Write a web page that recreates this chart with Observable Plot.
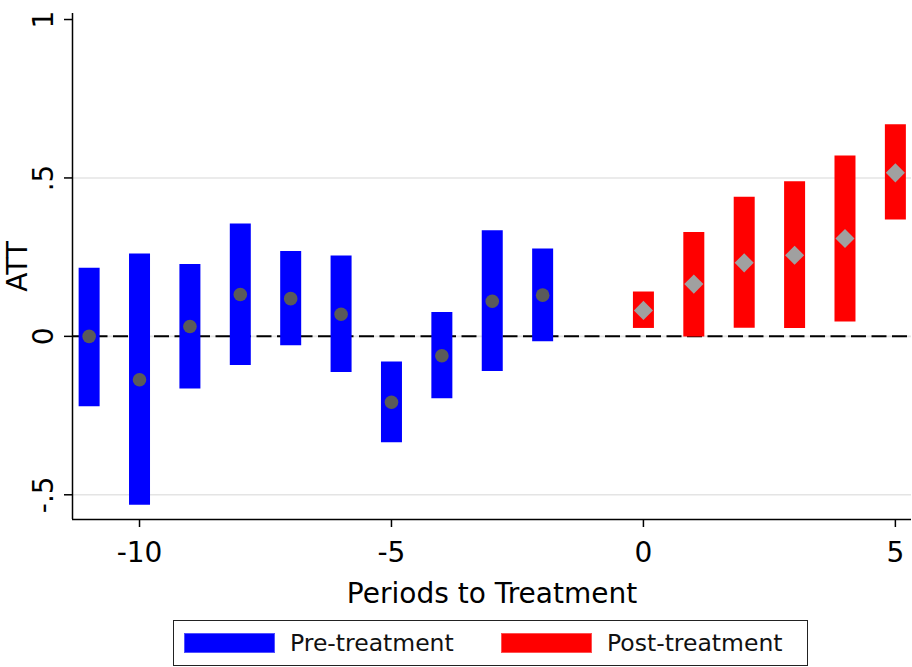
<!DOCTYPE html>
<html>
<head>
<meta charset="utf-8">
<script src="https://cdn.jsdelivr.net/npm/d3@7"></script>
<script src="https://cdn.jsdelivr.net/npm/@observablehq/plot@0.6"></script>
<style>
  html, body { margin: 0; padding: 0; background: #fff; }
  body { font-family: "DejaVu Sans", Verdana, sans-serif; width: 912px; }
  #chart svg { display: block; }
  .legend { position: relative; width: 912px; height: 52px; }
  .legend .box { position: absolute; left: 173px; top: 5px; width: 635px; height: 46px;
    border: 1.5px solid #222; box-sizing: border-box; }
  .legend .sw { position: absolute; width: 91px; height: 20px; box-sizing: border-box; }
  .legend .lab { position: absolute; font-size: 23.5px; line-height: 23.5px; color: #111; white-space: nowrap; }
</style>
</head>
<body>
<div id="chart"></div>
<div class="legend" id="legend"></div>
<script>
// ---- data ----
const periods = [-11, -10, -9, -8, -7, -6, -5, -4, -3, -2, 0, 1, 2, 3, 4, 5];
const att     = [0.000, -0.137, 0.031, 0.132, 0.119, 0.070, -0.208, -0.061, 0.111, 0.130, 0.082, 0.165, 0.232, 0.256, 0.309, 0.516];
const lower   = [-0.222, -0.533, -0.166, -0.092, -0.030, -0.114, -0.336, -0.197, -0.111, -0.017, 0.025, -0.002, 0.026, 0.025, 0.045, 0.367];
const upper   = [0.215, 0.260, 0.227, 0.355, 0.268, 0.254, -0.081, 0.075, 0.333, 0.276, 0.140, 0.328, 0.439, 0.488, 0.569, 0.668];
const xTicks = [-10, -5, 0, 5];
const yTicks = [-0.5, 0, 0.5, 1];
const gridTicks = [-0.5, 0, 0.5];
const seriesNames = ["Pre-treatment", "Post-treatment"];
const seriesColors = ["#0000ff", "#ff0000"];

const rows = periods.map((p, i) => ({period: p, att: att[i], lo: lower[i], hi: upper[i]}));
const pre = rows.filter(d => d.period < 0);
const post = rows.filter(d => d.period >= 0);

const xDomain = [-11.33, 5.32];
const yDomain = [-0.578, 1.019];

const yFmt = d => String(d).replace("0.", ".");

const chart = Plot.plot({
  width: 912,
  height: 615,
  marginLeft: 72,
  marginRight: 1,
  marginTop: 13,
  marginBottom: 96,
  style: {fontFamily: "DejaVu Sans, Verdana, sans-serif", background: "white", color: "black"},
  x: {domain: xDomain},
  y: {domain: yDomain},
  marks: [
    Plot.gridY(gridTicks, {stroke: "#e4e4e4", strokeOpacity: 1, strokeWidth: 1.6}),
    Plot.ruleY([0], {stroke: "black", strokeWidth: 2, strokeDasharray: "15,5.5"}),
    Plot.ruleX(pre, {x: "period", y1: "lo", y2: "hi", stroke: seriesColors[0], strokeWidth: 21}),
    Plot.ruleX(post, {x: "period", y1: "lo", y2: "hi", stroke: seriesColors[1], strokeWidth: 21}),
    Plot.dot(pre, {x: "period", y: "att", r: 6.8, fill: "#5a5a5a", stroke: null}),
    Plot.dot(post, {x: "period", y: "att", r: 8.6, symbol: "diamond2", fill: "#a0a0a0", stroke: null}),
    Plot.ruleX([xDomain[0]], {stroke: "black", strokeWidth: 1.5}),
    Plot.ruleY([yDomain[0]], {stroke: "black", strokeWidth: 1.5}),
    Plot.axisX(xTicks, {
      tickSize: 8, tickPadding: 15, fontSize: 28, strokeWidth: 1.5,
      tickFormat: d => String(d),
      label: "Periods to Treatment", labelAnchor: "center", labelOffset: 83, labelArrow: "none"
    }),
    Plot.axisY(yTicks, {
      tickSize: 8, tickPadding: 12, fontSize: 28, strokeWidth: 1.5,
      tickRotate: -90, textAnchor: "middle", lineAnchor: "bottom",
      tickFormat: yFmt,
      label: "ATT", labelAnchor: "center", labelOffset: 65, labelArrow: "none"
    })
  ]
});
document.getElementById("chart").appendChild(chart);

// ---- legend (HTML below the SVG) ----
const legend = document.getElementById("legend");
const box = document.createElement("div");
box.className = "box";
legend.appendChild(box);
const swLeft = [184, 501];
const labLeft = [290, 607];
seriesNames.forEach((name, i) => {
  const sw = document.createElement("div");
  sw.className = "sw";
  sw.style.left = swLeft[i] + "px";
  sw.style.top = "18px";
  sw.style.background = seriesColors[i];
  sw.style.border = "1px solid " + (i === 0 ? "#5050ff" : "#ff5050");
  legend.appendChild(sw);
  const lab = document.createElement("div");
  lab.className = "lab";
  lab.style.left = labLeft[i] + "px";
  lab.style.top = "17px";
  lab.textContent = name;
  legend.appendChild(lab);
});
</script>
</body>
</html>
